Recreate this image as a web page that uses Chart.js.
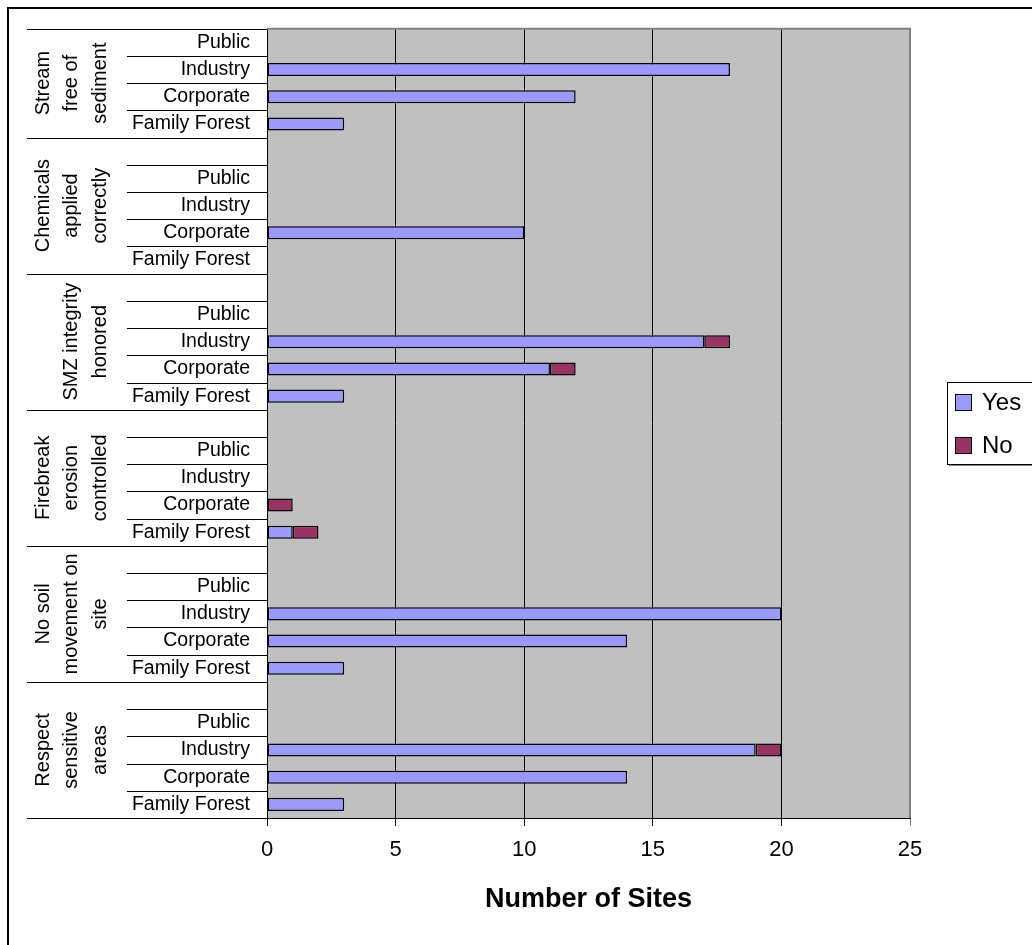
<!DOCTYPE html>
<html>
<head>
<meta charset="utf-8">
<script src="https://cdn.jsdelivr.net/npm/chart.js@4/dist/chart.umd.min.js"></script>
<style>
  html, body { margin: 0; padding: 0; background: #fff; }
  #wrap { width: 1032px; height: 945px; }
</style>
</head>
<body>
<div id="wrap"><canvas id="c" width="1032" height="945"></canvas></div>
<script>
// Management practices (grouped on the vertical axis, top to bottom)
const practices = [
  'Stream free of sediment',
  'Chemicals applied correctly',
  'SMZ integrity honored',
  'Firebreak erosion controlled',
  'No soil movement on site',
  'Respect sensitive areas'
];
// How each practice name wraps in its rotated label
const practiceLines = [
  ['Stream', 'free of', 'sediment'],
  ['Chemicals', 'applied', 'correctly'],
  ['SMZ integrity', 'honored'],
  ['Firebreak', 'erosion', 'controlled'],
  ['No soil', 'movement on', 'site'],
  ['Respect', 'sensitive', 'areas']
];
// Ownership classes within each practice
const owners = ['Public', 'Industry', 'Corporate', 'Family Forest'];
// Number of sites per owner (Public, Industry, Corporate, Family Forest)
const yesSites = [
  [0, 18, 12, 3],
  [0, 0, 10, 0],
  [0, 17, 11, 3],
  [0, 0, 0, 1],
  [0, 20, 14, 3],
  [0, 19, 14, 3]
];
const noSites = [
  [0, 0, 0, 0],
  [0, 0, 0, 0],
  [0, 1, 1, 0],
  [0, 0, 1, 1],
  [0, 0, 0, 0],
  [0, 1, 0, 0]
];
const seriesNames = ['Yes', 'No'];
const seriesColors = ['#9999FF', '#993366'];
const xTicks = [0, 5, 10, 15, 20, 25];

// Flatten into rows; a blank spacer row separates consecutive practices
const rowLabels = [];
const rowYes = [];
const rowNo = [];
const groupRows = [];
practices.forEach((p, g) => {
  const start = rowLabels.length;
  if (g > 0) { rowLabels.push(''); rowYes.push(null); rowNo.push(null); }
  owners.forEach((o, k) => {
    rowLabels.push(o);
    rowYes.push(yesSites[g][k]);
    rowNo.push(noSites[g][k]);
  });
  groupRows.push([start, rowLabels.length - 1]);
});

const FONT = '"Liberation Sans", Arial, sans-serif';

const framePlugin = {
  id: 'frame',
  beforeDraw(chart) {
    const { ctx, chartArea: a } = chart;
    ctx.save();
    ctx.fillStyle = '#ffffff';
    ctx.fillRect(0, 0, chart.width, chart.height);
    ctx.fillStyle = '#C0C0C0';
    ctx.fillRect(a.left, a.top, a.right - a.left, a.bottom - a.top);
    ctx.restore();
  },
  afterDraw(chart) {
    const { ctx, chartArea: a } = chart;
    const y = chart.scales.y;
    ctx.save();

    // outer chart border
    ctx.strokeStyle = '#000';
    ctx.lineWidth = 2;
    ctx.strokeRect(8, 8, 1200, 1200);

    // plot area border (top and right)
    ctx.strokeStyle = '#808080';
    ctx.lineWidth = 2;
    ctx.beginPath();
    ctx.moveTo(a.left, a.top);
    ctx.lineTo(a.right, a.top);
    ctx.lineTo(a.right, a.bottom);
    ctx.stroke();

    // row and group separators in the category label area
    const half = (y.getPixelForValue(1) - y.getPixelForValue(0)) / 2;
    const n = rowLabels.length;
    ctx.strokeStyle = '#000';
    ctx.lineWidth = 1;
    for (let i = 0; i <= n; i++) {
      const yy = i < n ? y.getPixelForValue(i) - half : y.getPixelForValue(n - 1) + half;
      const groupEdge = i === 0 || i === n || rowLabels[i] === '';
      const x0 = groupEdge ? 27 : 127;
      const py = Math.round(yy) + 0.5;
      ctx.beginPath();
      ctx.moveTo(x0, py);
      ctx.lineTo(a.left, py);
      ctx.stroke();
    }

    // rotated practice labels
    ctx.fillStyle = '#000';
    ctx.font = '20px ' + FONT;
    ctx.textAlign = 'center';
    ctx.textBaseline = 'middle';
    groupRows.forEach(([s, e], g) => {
      const top = y.getPixelForValue(s) - half;
      const bottom = y.getPixelForValue(e) + half;
      const yc = (top + bottom) / 2;
      const lines = practiceLines[g];
      lines.forEach((t, k) => {
        const x = 100 - (lines.length - 1 - k) * 28.5;
        ctx.save();
        ctx.translate(x, yc);
        ctx.rotate(-Math.PI / 2);
        ctx.fillText(t, 0, 0);
        ctx.restore();
      });
    });

    // legend
    const lx = 947, ly = 382, lw = 120, lh = 82;
    ctx.fillStyle = '#808080';
    ctx.fillRect(lx + 2, ly + 2, lw, lh);
    ctx.fillStyle = '#fff';
    ctx.fillRect(lx, ly, lw, lh);
    ctx.strokeStyle = '#000';
    ctx.lineWidth = 1;
    ctx.strokeRect(lx + 0.5, ly + 0.5, lw, lh);
    ctx.font = '24px ' + FONT;
    ctx.textAlign = 'left';
    ctx.textBaseline = 'middle';
    chart.data.datasets.forEach((ds, i) => {
      const cy = ly + 20 + i * 43;
      ctx.fillStyle = ds.backgroundColor;
      ctx.fillRect(lx + 8, cy - 8, 16, 16);
      ctx.strokeStyle = '#000';
      ctx.strokeRect(lx + 8.5, cy - 7.5, 16, 16);
      ctx.fillStyle = '#000';
      ctx.fillText(ds.label, lx + 35, cy + 1);
    });
    ctx.restore();
  }
};

new Chart(document.getElementById('c'), {
  type: 'bar',
  data: {
    labels: rowLabels,
    datasets: [
      { label: seriesNames[0], data: rowYes, backgroundColor: seriesColors[0] },
      { label: seriesNames[1], data: rowNo, backgroundColor: seriesColors[1] }
    ]
  },
  options: {
    indexAxis: 'y',
    responsive: false,
    animation: false,
    events: [],
    layout: { padding: { left: 0, top: 27, right: 122, bottom: 0 } },
    datasets: {
      bar: {
        categoryPercentage: 1,
        barPercentage: 0.48,
        borderColor: '#000',
        borderWidth: 1.5,
        borderSkipped: false
      }
    },
    plugins: {
      legend: { display: false },
      tooltip: { enabled: false }
    },
    scales: {
      x: {
        type: 'linear',
        stacked: true,
        min: xTicks[0],
        max: xTicks[xTicks.length - 1],
        afterBuildTicks(scale) { scale.ticks = xTicks.map(v => ({ value: v })); },
        afterFit(scale) { scale.height = 127; },
        ticks: {
          color: '#000',
          font: { family: FONT, size: 22 },
          padding: 11,
          maxRotation: 0
        },
        grid: {
          color: ctx => (ctx.tick && ctx.tick.value === 25 ? '#808080' : '#000'),
          lineWidth: 1,
          drawTicks: true,
          tickLength: 8
        },
        border: { display: true, color: '#000', width: 1 },
        title: {
          display: true,
          text: 'Number of Sites',
          color: '#000',
          font: { family: FONT, size: 27, weight: 'bold' },
          padding: { top: 0, bottom: 29 }
        }
      },
      y: {
        type: 'category',
        stacked: true,
        afterFit(scale) { scale.width = 267; },
        ticks: {
          color: '#000',
          font: { family: FONT, size: 19.5 },
          padding: 17,
          autoSkip: false
        },
        grid: { display: false, drawTicks: false },
        border: { display: true, color: '#000', width: 1 }
      }
    }
  },
  plugins: [framePlugin]
});
</script>
</body>
</html>
